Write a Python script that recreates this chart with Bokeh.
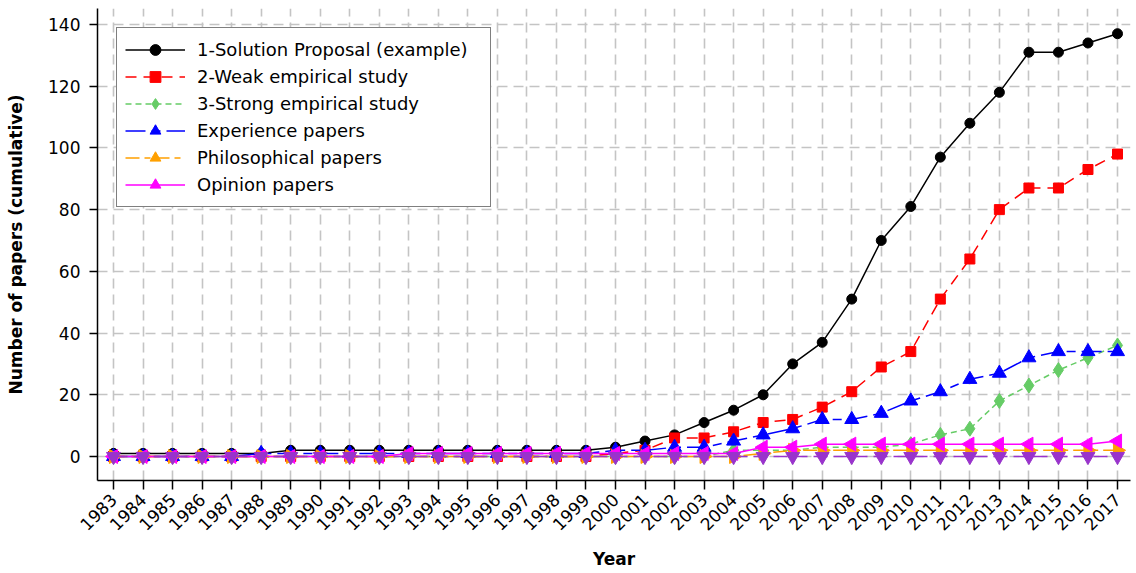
from math import pi
from bokeh.plotting import figure
from bokeh.models import FixedTicker, Legend, LegendItem, ColumnDataSource
from bokeh.embed import file_html
from bokeh.resources import INLINE

years = [1983, 1984, 1985, 1986, 1987, 1988, 1989, 1990, 1991, 1992, 1993, 1994,
         1995, 1996, 1997, 1998, 1999, 2000, 2001, 2002, 2003, 2004, 2005, 2006,
         2007, 2008, 2009, 2010, 2011, 2012, 2013, 2014, 2015, 2016, 2017]

solution = [1, 1, 1, 1, 1, 1, 2, 2, 2, 2, 2, 2, 2, 2, 2, 2, 2, 3, 5, 7, 11, 15, 20, 30,
            37, 51, 70, 81, 97, 108, 118, 131, 131, 134, 137]
weak = [0, 0, 0, 0, 0, 0, 0, 0, 0, 0, 0, 0, 0, 0, 0, 0, 0, 1, 2, 6, 6, 8, 11, 12,
        16, 21, 29, 34, 51, 64, 80, 87, 87, 93, 98]
strong = [0, 0, 0, 0, 0, 0, 0, 0, 0, 0, 0, 0, 0, 0, 0, 0, 0, 0, 0, 0, 0, 2, 2, 2,
          3, 3, 3, 4, 7, 9, 18, 23, 28, 32, 36]
experience = [0, 0, 0, 0, 0, 1, 1, 1, 1, 1, 1, 1, 1, 1, 1, 1, 1, 2, 2, 3, 3, 5, 7, 9,
              12, 12, 14, 18, 21, 25, 27, 32, 34, 34, 34]
philosophical = [0, 0, 0, 0, 0, 0, 0, 0, 0, 0, 0, 0, 0, 0, 0, 0, 0, 0, 0, 0, 0, 0, 1, 2,
                 2, 2, 2, 2, 2, 2, 2, 2, 2, 2, 2]
opinion = [0, 0, 0, 0, 0, 0, 0, 0, 0, 0, 1, 1, 1, 1, 1, 1, 1, 1, 1, 1, 1, 1, 3, 3,
           4, 4, 4, 4, 4, 4, 4, 4, 4, 4, 5]
other = [0, 0, 0, 0, 0, 0, 0, 0, 0, 0, 0, 0, 0, 0, 0, 0, 0, 0, 0, 0, 0, 0, 0, 0,
         0, 0, 0, 0, 0, 0, 0, 0, 0, 0, 0]

y_ticks = [0, 20, 40, 60, 80, 100, 120, 140]

labels = ["1-Solution Proposal (example)", "2-Weak empirical study",
          "3-Strong empirical study", "Experience papers",
          "Philosophical papers", "Opinion papers"]

FONT = "DejaVu Sans"

p = figure(width=1136, height=573, x_range=(1982.458, 2017.44), y_range=(-7.78, 145.17),
           output_backend="svg", toolbar_location=None,
           min_border_left=97, min_border_right=6, min_border_top=8, min_border_bottom=93)
p.outline_line_color = None
p.background_fill_color = "white"

for g in (p.xgrid, p.ygrid):
    g.grid_line_color = "#c4c4c4"
    g.grid_line_dash = "10 6"
    g.grid_line_width = 1.6

p.xaxis.ticker = FixedTicker(ticks=years)
p.yaxis.ticker = FixedTicker(ticks=y_ticks)
for ax in (p.xaxis, p.yaxis):
    ax.axis_line_color = "black"
    ax.axis_line_width = 1.5
    ax.major_tick_line_color = "black"
    ax.major_tick_line_width = 1.5
    ax.minor_tick_line_color = None
    ax.major_tick_in = 0
    ax.major_label_text_font = FONT
    ax.major_label_text_color = "black"
    ax.axis_label_text_font = FONT
    ax.axis_label_text_font_style = "bold"
    ax.axis_label_text_font_size = "17px"
    ax.axis_label_text_color = "black"

p.xaxis.major_tick_out = 9
p.xaxis.major_label_orientation = pi / 4
p.xaxis.major_label_text_font_size = "17px"
p.xaxis.major_label_standoff = 7
p.xaxis.axis_label = "Year"
p.xaxis.axis_label_standoff = 10

p.yaxis.major_tick_out = 8
p.yaxis.major_label_text_font_size = "17px"
p.yaxis.major_label_standoff = 9
p.yaxis.axis_label = "Number of papers (cumulative)"
p.yaxis.axis_label_standoff = 19

series = [
    (solution, "black", "solid", "circle", 10, 0),
    (weak, "#ff0000", "11 7", "square", 10, 0),
    (strong, "#66cc66", "6 4", "diamond", 15, 0),
    (experience, "#0000ff", "20 6 9 6", "triangle", 14, 0),
    (philosophical, "#ffa000", "14 5 6 5", "triangle", 14, -pi / 2),
    (opinion, "#ff00ff", "solid", "triangle", 14, pi / 2),
]

items = []
for (vals, color, dash, marker, size, angle), lab in zip(series, labels):
    src = ColumnDataSource(dict(x=years, y=vals))
    ln = p.line("x", "y", source=src, line_color=color, line_width=1.5, line_dash=dash)
    sc = p.scatter("x", "y", source=src, marker=marker, size=size, angle=angle,
                   fill_color=color, line_color=color)
    items.append(LegendItem(label=lab, renderers=[ln, sc]))

src_o = ColumnDataSource(dict(x=years, y=other))
p.line("x", "y", source=src_o, line_color="#9933cc", line_width=1.5, line_dash="14 6")
p.scatter("x", "y", source=src_o, marker="inverted_triangle", size=14,
          fill_color="#9933cc", line_color="#9933cc")

legend = Legend(items=items, location="top_left", margin=19,
                label_text_font=FONT, label_text_font_size="18px",
                label_text_color="black",
                glyph_width=60, glyph_height=27, label_height=27, spacing=0,
                padding=8, label_standoff=12, label_width=285,
                border_line_color="black", border_line_width=1.5,
                background_fill_color="white", background_fill_alpha=1.0)
p.add_layout(legend)

open("out.html", "w").write(file_html(p, INLINE))
